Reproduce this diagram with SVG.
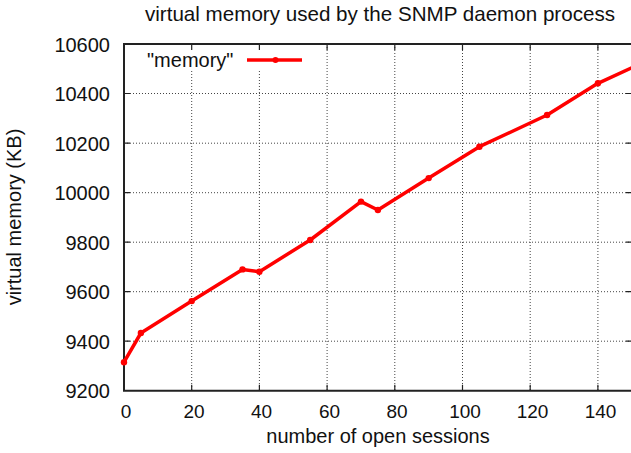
<svg xmlns="http://www.w3.org/2000/svg" width="631" height="453" viewBox="0 0 631 453">
<style>
text{font-family:"Liberation Sans",Arial,sans-serif;fill:#111;}
.t{font-size:20px;}
.tt{font-size:20.6px;}
.yt{font-size:20px;text-anchor:end;}
.xt{font-size:19px;text-anchor:middle;}
.grid{stroke:#444;stroke-width:1;stroke-dasharray:1,2;fill:none;}
.tick{stroke:#222;stroke-width:1.2;}
.data{stroke:#ff0000;stroke-width:3.5;fill:none;stroke-linejoin:round;}
.pt{fill:#ff0000;}
</style>
<rect width="631" height="453" fill="#fff"/>
<g id="grid">
<path class="grid" d="M124 93.5H631M124 143.2H631M124 192.7H631M124 242.2H631M124 291.7H631M124 341.2H631"/>
<path class="grid" d="M191.7 71V390.7M259.4 71V390.7M327.1 44V390.7M394.8 44V390.7M462.5 44V390.7M530.2 44V390.7M597.9 44V390.7"/>
</g>
<g id="ticks">
<path class="tick" d="M124 93.5h6M124 143.2h6M124 192.7h6M124 242.2h6M124 291.7h6M124 341.2h6M631 93.5h-5M631 143.2h-5M631 192.7h-5M631 242.2h-5M631 291.7h-5M631 341.2h-5"/>
<path class="tick" d="M191.7 390.7v-6M259.4 390.7v-6M327.1 390.7v-6M394.8 390.7v-6M462.5 390.7v-6M530.2 390.7v-6M597.9 390.7v-6M191.7 44v6M259.4 44v6M327.1 44v6M394.8 44v6M462.5 44v6M530.2 44v6M597.9 44v6"/>
</g>
<g id="border">
<path d="M632 44H124V390.7H632" fill="none" stroke="#222" stroke-width="2"/>
</g>
<g id="ylabels">
<text class="yt" x="110" y="51.5">10600</text>
<text class="yt" x="110" y="101">10400</text>
<text class="yt" x="110" y="150.7">10200</text>
<text class="yt" x="110" y="200.2">10000</text>
<text class="yt" x="110" y="249.7">9800</text>
<text class="yt" x="110" y="299.2">9600</text>
<text class="yt" x="110" y="348.7">9400</text>
<text class="yt" x="110" y="398.2">9200</text>
</g>
<g id="xlabels">
<text class="xt" x="126" y="418">0</text>
<text class="xt" x="194" y="418">20</text>
<text class="xt" x="261.5" y="418">40</text>
<text class="xt" x="329.5" y="418">60</text>
<text class="xt" x="397" y="418">80</text>
<text class="xt" x="465" y="418">100</text>
<text class="xt" x="532.5" y="418">120</text>
<text class="xt" x="600.5" y="418">140</text>
</g>
<g id="title"><text class="tt" x="380" y="21" text-anchor="middle">virtual memory used by the SNMP daemon process</text></g>
<g id="xaxis-label"><text class="t" x="378" y="443" text-anchor="middle">number of open sessions</text></g>
<g id="yaxis-label"><text class="t" transform="translate(21,217) rotate(-90)" text-anchor="middle">virtual memory (KB)</text></g>
<g id="legend">
<text class="t" x="147" y="67">"memory"</text>
<path class="data" d="M247 60H302"/>
<circle class="pt" cx="275.5" cy="60" r="3"/>
</g>
<g id="series">
<polyline class="data" points="124,362.2 140.9,333 191.7,301.1 242.5,269.4 259.4,271.7 310.2,240 361,201.6 377.9,210 428.7,178.1 479.4,146.7 547.1,115 597.9,83.3 631.8,67.7"/>
<g class="pt">
<circle cx="124" cy="362.2" r="3.2"/><circle cx="140.9" cy="333" r="3.2"/><circle cx="191.7" cy="301.1" r="3.2"/><circle cx="242.5" cy="269.4" r="3.2"/><circle cx="259.4" cy="271.7" r="3.2"/><circle cx="310.2" cy="240" r="3.2"/><circle cx="361" cy="201.6" r="3.2"/><circle cx="377.9" cy="210" r="3.2"/><circle cx="428.7" cy="178.1" r="3.2"/><circle cx="479.4" cy="146.7" r="3.2"/><circle cx="547.1" cy="115" r="3.2"/><circle cx="597.9" cy="83.3" r="3.2"/>
</g>
</g>
</svg>
